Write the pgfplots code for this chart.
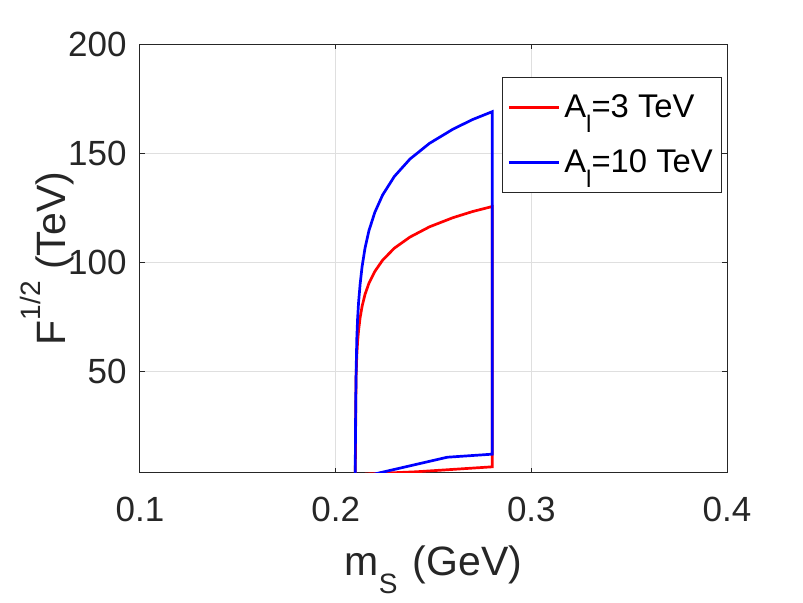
\documentclass[border=0pt]{standalone}
\usepackage{pgfplots}
\pgfplotsset{compat=1.18}
\usepackage{fontspec}
\setmainfont{Liberation Sans}
\definecolor{axgray}{HTML}{262626}
\definecolor{gridgray}{HTML}{DFDFDF}
\newcommand{\fs}{\fontsize{17.5}{21}\selectfont}
\newcommand{\lfs}{\fontsize{20.5}{24}\selectfont}
\newcommand{\legfs}{\fontsize{16.4}{20}\selectfont}
\newcommand{\sfs}{\fontsize{14}{15}\selectfont}
\newcommand{\lsfs}{\fontsize{12}{13}\selectfont}
\begin{document}
\begin{tikzpicture}
\useasboundingbox (-70pt,-64.65pt) rectangle (331.5pt,236.35pt);
\begin{axis}[
  at={(0,0)}, anchor=south west,
  scale only axis, width=293.5pt, height=214.2pt,
  xmin=0.1, xmax=0.4, ymin=3.5, ymax=200,
  xtick={0.1,0.2,0.3,0.4}, xticklabels={0.1,0.2,0.3,0.4},
  ytick={50,100,150,200}, yticklabels={50,100,150,200},
  tick align=inside, major tick length=2.5pt,
  grid=major, major grid style={gridgray, line width=0.5pt},
  axis line style={axgray, line width=0.5pt},
  tick style={axgray, line width=0.5pt},
  ticklabel style={font=\fs, text=axgray},
  xticklabel style={anchor=north, inner sep=0pt, yshift=-12.15pt},
  yticklabel style={anchor=east, inner sep=0pt, xshift=-6.5pt},
  label style={font=\lfs, text=axgray},
  xlabel={m\raisebox{-9pt}[0pt][0pt]{\sfs S}\hspace{2pt} (GeV)},
  xlabel style={at={(axis description cs:0.5,0)}, anchor=base, yshift=-51.15pt},
  ylabel={F\raisebox{12.5pt}[0pt][0pt]{\sfs 1/2} (TeV)},
  ylabel style={at={(axis description cs:-0.127,0.5)}, anchor=base},
  legend style={at={(0.992,0.924)}, anchor=north east, draw=axgray,
    line width=0.5pt, font=\legfs, fill=white, row sep=10.5pt,
    inner xsep=2.5pt, inner ysep=6.5pt},
  legend cell align=left,
  legend image code/.code={\draw[#1, line width=1.35pt] (0pt,0pt) -- (25pt,0pt);},
]
\addplot[red, line width=1.35pt] coordinates {
(0.2100,0) (0.2104,46.6) (0.2108,57.2) (0.2112,63.4) (0.2117,68.7)
(0.2125,74.6) (0.2135,79.8) (0.2150,85.3) (0.2170,90.4) (0.2200,95.8)
(0.2240,101.0) (0.2300,106.5) (0.2380,111.6) (0.2480,116.3) (0.2600,120.5)
(0.2700,123.3) (0.2800,125.6) (0.2800,6.2) (0.2414,3.94)
(0.2222,3.2) (0.2150,2.9)
};
\addlegendentry{A\raisebox{-7.5pt}[0pt][0pt]{\lsfs l}=3 TeV}
\addplot[blue, line width=1.35pt] coordinates {
(0.2100,0) (0.2101,20) (0.2103,39.6) (0.2105,51.8) (0.2108,65) (0.2112,74)
(0.2117,81.5) (0.2125,90.0) (0.2135,98.0) (0.2150,106.5) (0.2170,114.5)
(0.2200,122.9) (0.2240,130.9) (0.2300,139.4) (0.2380,147.4) (0.2480,154.6)
(0.2600,161.1) (0.2700,165.5) (0.2800,169.1) (0.2800,12.0) (0.2570,10.6)
(0.2213,3.2) (0.2180,2.5)
};
\addlegendentry{A\raisebox{-7.5pt}[0pt][0pt]{\lsfs l}=10 TeV}
\end{axis}
\end{tikzpicture}
\end{document}
